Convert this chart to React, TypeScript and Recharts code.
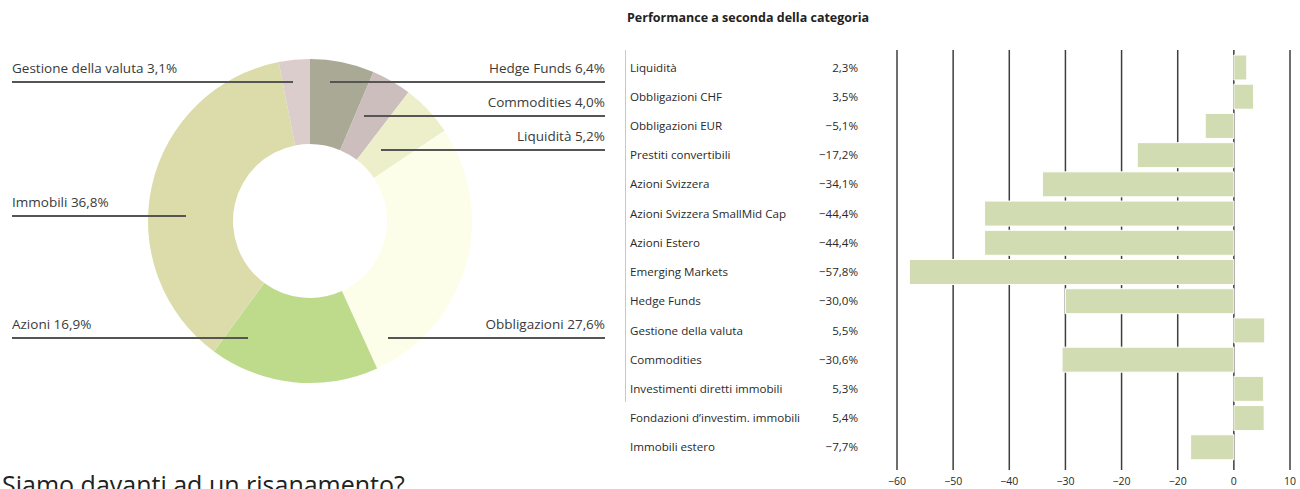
import React from "react";
import { PieChart, Pie, Cell, BarChart, Bar, XAxis, YAxis, CartesianGrid } from "recharts";

// ---- Pie data (allocation) ----
const pieNames = ["Hedge Funds", "Commodities", "Liquidità", "Obbligazioni", "Azioni ", "Immobili", "Gestione della valuta"];
const pieValues = [6.4, 4.0, 5.2, 27.6, 16.9, 36.8, 3.1];
const pieColors = ["#a9a995", "#cdbebe", "#edefcb", "#fdfee9", "#bedb8c", "#dcdcab", "#dccdcd"];

// annotation layout for pie labels (relative to pie centre)
const pieLabelSide = ["right", "right", "right", "right", "left", "left", "left"];
const pieLabelLineY = [-139, -105, -71, 117, 117, -5, -139];
const pieLabelInnerX = [20, 54, 71, 78, -62, -124, -17];

// ---- Bar data (performance) ----
const barCategories = [
  "Liquidità",
  "Obbligazioni CHF",
  "Obbligazioni EUR",
  "Prestiti convertibili",
  "Azioni Svizzera",
  "Azioni Svizzera SmallMid Cap",
  "Azioni Estero",
  "Emerging Markets",
  "Hedge Funds",
  "Gestione della valuta",
  "Commodities",
  "Investimenti diretti immobili",
  "Fondazioni d’investim. immobili",
  "Immobili estero",
];
const barValues = [2.3, 3.5, -5.1, -17.2, -34.1, -44.4, -44.4, -57.8, -30.0, 5.5, -30.6, 5.3, 5.4, -7.7];
const xTicks = [-60, -50, -40, -30, -20, -10, 0, 10];
const xTickLabels = ["−60", "−50", "−40", "−30", "−20", "−20", "0", "10"];

const pieData = pieNames.map((name, i) => ({ name, value: pieValues[i] }));
const barData = barCategories.map((name, i) => ({ name, value: barValues[i] }));

const FONT = "'Open Sans', 'Noto Sans', sans-serif";

const fmtPct = (v: number) => (v < 0 ? "−" : "") + Math.abs(v).toFixed(1).replace(".", ",") + "%";

const renderPieLabel = (props: any) => {
  const { cx, cy, index } = props;
  const side = pieLabelSide[index];
  const ly = cy + pieLabelLineY[index];
  const ix = cx + pieLabelInnerX[index];
  const ox = side === "left" ? 12 : 605;
  const text = pieNames[index] + " " + fmtPct(pieValues[index]);
  return (
    <g key={"pl" + index}>
      <line x1={ox} y1={ly} x2={ix} y2={ly} stroke="#555" strokeWidth={2} />
      <text
        x={ox}
        y={ly - 9}
        textAnchor={side === "left" ? "start" : "end"}
        fontFamily={FONT}
        fontSize={13.5}
        fill="#3a3a3a"
      >
        {text}
      </text>
    </g>
  );
};

const CategoryTick = (props: any) => {
  const { y, payload } = props;
  const idx = barCategories.indexOf(payload.value);
  return (
    <g>
      <text x={10} y={y} dy={4} fontFamily={FONT} fontSize={11.6} fill="#2a2a2a">
        {payload.value}
      </text>
      <text x={238} y={y} dy={4} textAnchor="end" fontFamily={FONT} fontSize={11.6} fill="#2a2a2a">
        {idx >= 0 ? fmtPct(barValues[idx]) : ""}
      </text>
    </g>
  );
};

export default function App() {
  return (
    <div
      style={{
        position: "absolute",
        left: 0,
        top: 0,
        width: 1300,
        height: 489,
        overflow: "hidden",
        background: "#fff",
      }}
    >
      <div style={{ position: "absolute", left: 0, top: 0 }}>
        <PieChart width={620} height={489} margin={{ top: 0, right: 0, bottom: 0, left: 0 }}>
          <Pie
            data={pieData}
            dataKey="value"
            nameKey="name"
            cx={310}
            cy={221}
            innerRadius={77}
            outerRadius={162}
            startAngle={90}
            endAngle={-270}
            stroke="none"
            label={renderPieLabel}
            labelLine={false}
            isAnimationActive={false}
          >
            {pieData.map((d, i) => (
              <Cell key={d.name} fill={pieColors[i]} />
            ))}
          </Pie>
        </PieChart>
      </div>

      <div
        style={{
          position: "absolute",
          left: 627,
          top: 9,
          fontFamily: FONT,
          fontWeight: 700,
          fontSize: 12.5,
          lineHeight: "17px",
          color: "#222",
          whiteSpace: "nowrap",
        }}
      >
        Performance a seconda della categoria
      </div>

      <div style={{ position: "absolute", left: 625, top: 50, width: 1, height: 352, background: "#c8c8c8" }} />

      <div style={{ position: "absolute", left: 620, top: 0 }}>
        <BarChart
          width={680}
          height={489}
          layout="vertical"
          data={barData}
          margin={{ top: 50, right: 10, bottom: 0, left: 0 }}
          barCategoryGap={5}
        >
          <CartesianGrid horizontal={false} stroke="#3e3e3e" strokeWidth={1.5} />
          <XAxis
            type="number"
            domain={[-60, 10]}
            ticks={xTicks}
            height={19}
            axisLine={false}
            tickLine={false}
            tickMargin={2}
            interval={0}
            tickFormatter={(v: number) => xTickLabels[xTicks.indexOf(v)] ?? String(v)}
            tick={{ fontFamily: FONT, fontSize: 10.5, fill: "#2a2a2a" }}
          />
          <YAxis
            type="category"
            dataKey="name"
            width={277}
            axisLine={false}
            tickLine={false}
            interval={0}
            padding={{ top: 3, bottom: 8 }}
            tick={<CategoryTick />}
          />
          <Bar dataKey="value" fill="#d2dcb2" stroke="#ffffff" strokeWidth={1} barSize={25} isAnimationActive={false} />
        </BarChart>
      </div>

      <div
        style={{
          position: "absolute",
          left: 2,
          top: 472,
          fontFamily: FONT,
          fontSize: 25,
          lineHeight: "25px",
          color: "#222",
          whiteSpace: "nowrap",
        }}
      >
        Siamo davanti ad un risanamento?
      </div>
    </div>
  );
}
